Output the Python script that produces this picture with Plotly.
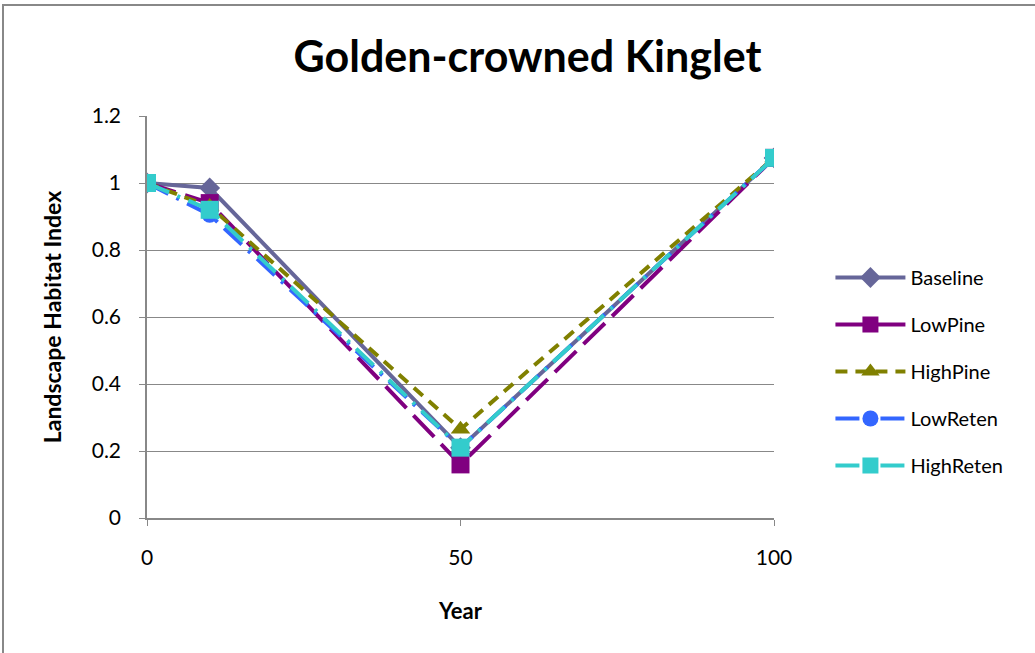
import plotly.graph_objects as go

years = [0, 10, 50, 100]
baseline = [1.0, 0.985, 0.21, 1.075]
low_pine = [1.0, 0.94, 0.16, 1.075]
high_pine = [1.0, 0.93, 0.265, 1.075]
low_reten = [1.0, 0.905, 0.21, 1.075]
high_reten = [1.0, 0.92, 0.21, 1.075]

series = [
    ("Baseline", baseline, "#666699", "solid", "diamond", 16),
    ("LowPine", low_pine, "#800080", "30px,10px", "square", 18),
    ("HighPine", high_pine, "#808000", "12px,8px", "triangle-up", 17),
    ("LowReten", low_reten, "#3366FF", "24px,9px,3px,9px", "circle", 16),
    ("HighReten", high_reten, "#33CCCC", "24px,9px,3px,9px", "square", 18),
]

FONT = "Lato"

fig = go.Figure()
for name, vals, color, dash, sym, size in series:
    fig.add_trace(go.Scatter(
        x=years, y=vals, name=name, mode="lines+markers", legendgroup=name,
        line=dict(color=color, width=4, dash=dash),
        marker=dict(symbol=sym, size=size, color=color),
    ))

W, H = 1035, 653
L, R, T, B = 147, 261, 116, 135
ph = H - T - B

fig.update_layout(
    width=W, height=H,
    margin=dict(l=L, r=R, t=T, b=B),
    paper_bgcolor="white", plot_bgcolor="white",
    font=dict(family=FONT, color="#000000", size=20),
    title=dict(text="<b>Golden-crowned Kinglet</b>", x=(293 + 762) / 2 / W, xanchor="center",
               y=1 - 57 / H, yanchor="middle", font=dict(size=43, family=FONT)),
    showlegend=True,
    legend=dict(x=1.09, xanchor="left", y=1 - (258 - T) / ph, yanchor="top",
                font=dict(size=20, family=FONT), itemwidth=70,
                tracegroupgap=18, bgcolor="rgba(0,0,0,0)"),
    xaxis=dict(range=[0, 100], tickvals=[0, 50, 100], showgrid=False, zeroline=False,
               showline=True, linecolor="#888888", linewidth=1.5,
               ticks="outside", ticklen=6, tickcolor="#888888",
               ticklabelstandoff=14,
               tickfont=dict(size=21, family=FONT),
               title=dict(text="<b>Year</b>", font=dict(size=22, family=FONT), standoff=36)),
    yaxis=dict(range=[0, 1.2], tickvals=[0, 0.2, 0.4, 0.6, 0.8, 1, 1.2],
               ticktext=["0", "0.2", "0.4", "0.6", "0.8", "1", "1.2"],
               showgrid=True, gridcolor="#888888", gridwidth=1.2, zeroline=False,
               showline=True, linecolor="#888888", linewidth=1.5,
               ticks="outside", ticklen=6, tickcolor="#888888",
               ticklabelstandoff=14,
               tickfont=dict(size=21, family=FONT),
               title=dict(text="<b>Landscape Habitat Index</b>", font=dict(size=23, family=FONT), standoff=24)),
)

# outer chart frame
fig.add_shape(type="rect", xref="paper", yref="paper",
              x0=(3 - L) / (W - L - R), x1=1.6,
              y0=-0.6, y1=1 + (T - 5) / ph,
              line=dict(color="#888888", width=2), fillcolor="rgba(0,0,0,0)", layer="below")

fig.write_html("out.html")
